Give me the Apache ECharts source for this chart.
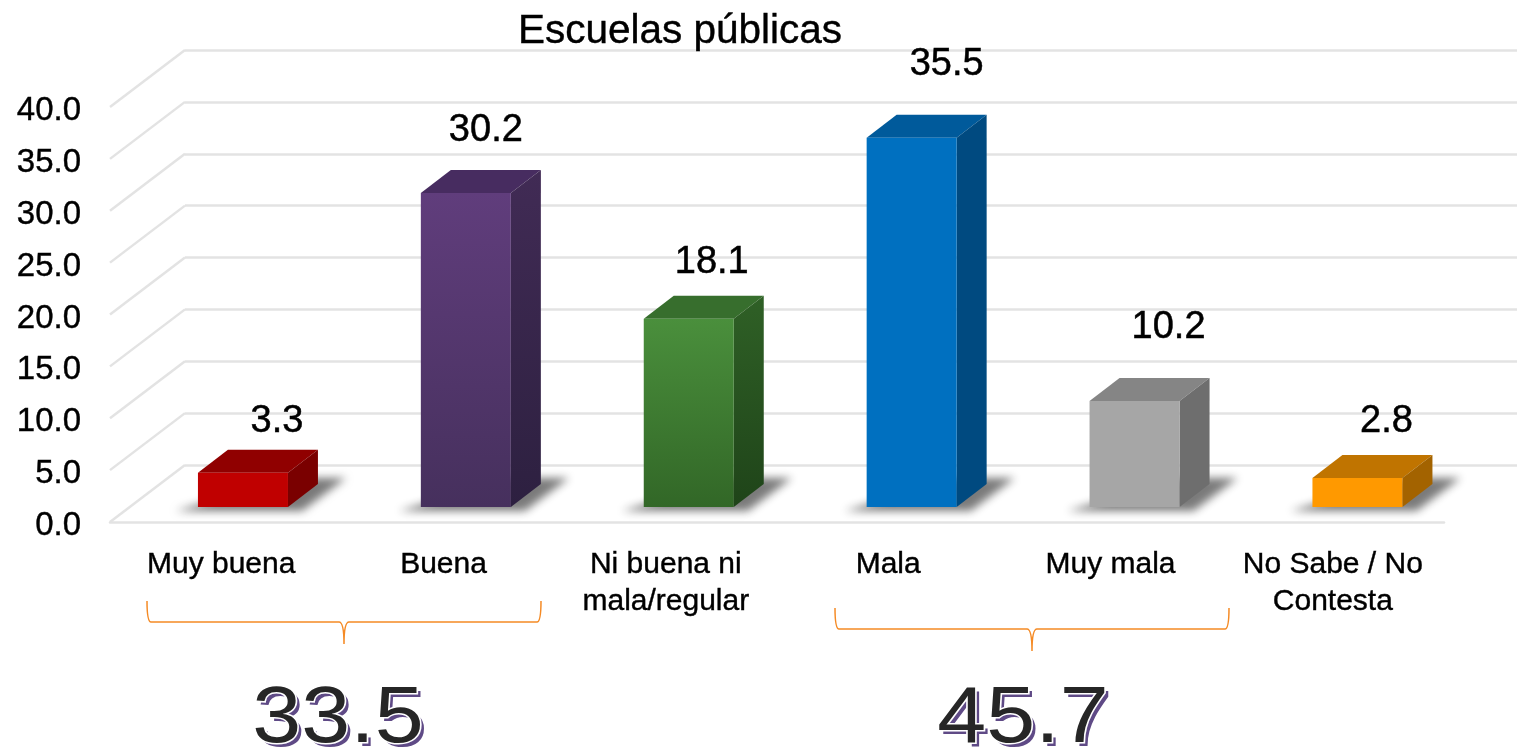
<!DOCTYPE html>
<html>
<head>
<meta charset="utf-8">
<style>html,body{margin:0;padding:0;background:#fff}#c{width:1517px;height:751px}</style>
<script src="https://cdn.jsdelivr.net/npm/echarts@6/dist/echarts.min.js"></script>
</head>
<body>
<div id="c"></div>
<script>
const categories = ['Muy buena','Buena','Ni buena ni\nmala/regular','Mala','Muy mala','No Sabe / No\nContesta'];
const values = [3.3,30.2,18.1,35.5,10.2,2.8];
const valueTicks = [0,5,10,15,20,25,30,35,40];
const groupTotals = ['33.5','45.7'];
const chartTitle = 'Escuelas públicas';

const frontColors = [['#c00000','#c00000'],['#603d7c','#46305d'],['#4a8f3c','#326727'],['#0070c0','#0070c0'],['#a6a6a6','#a6a6a6'],['#ff9900','#ff9900']];
const topColors = ['#900000','#472c60','#376e2d','#005a9b','#858585','#c07400'];
const sideColors = [['#7a0000','#7a0000'],['#412b55','#2d2040'],['#2f6026','#1f4419'],['#004a80','#004a80'],['#6e6e6e','#6e6e6e'],['#a36300','#a36300']];
const labelShift = [[34,-28],[20,-39],[23,-33],[35,-50],[34,-50],[29,-33]];

const FONT = '"Liberation Sans", Arial, sans-serif';
const GRID_COLOR = '#e3e3e3';
const BAR_W = 90, DX = 30, DY = 23;
const WALL_DX = 75, WALL_DY = 57;
const OFF = 3000;

const gradient = c => new echarts.graphic.LinearGradient(0,0,0,1,[{offset:0,color:c[0]},{offset:1,color:c[1]}]);

function renderBar(params, api) {
  const i = api.value(0), v = api.value(1);
  const top = api.coord([i, v]), base = api.coord([i, 0]);
  const x0 = top[0] - BAR_W/2, x1 = top[0] + BAR_W/2, yt = top[1], yb = base[1];
  return {type:'group', children:[
    {type:'polygon', shape:{points:[[x0-22-OFF,yb+4],[x1+14-OFF,yb+4],[x1+DX+28-OFF,yb-DY-6],[x1-OFF,yb-DY-6]]},
      style:{fill:'#000', shadowBlur:8, shadowOffsetX:OFF, shadowColor:'rgba(115,115,115,0.95)'}},
    {type:'polygon', shape:{points:[[x0,yt],[x1,yt],[x1+DX,yt-DY],[x0+DX,yt-DY]]}, style:{fill:topColors[i]}},
    {type:'polygon', shape:{points:[[x1,yt],[x1+DX,yt-DY],[x1+DX,yb-DY],[x1,yb]]}, style:{fill:gradient(sideColors[i])}},
    {type:'rect', shape:{x:x0,y:yt,width:BAR_W,height:yb-yt}, style:{fill:gradient(frontColors[i])}},
    {type:'text', x:top[0]+labelShift[i][0], y:yt-DY+labelShift[i][1],
      style:{text:v.toFixed(1), fill:'#000', stroke:'#000', lineWidth:0.5, font:'38px '+FONT, align:'center', verticalAlign:'middle'}}
  ]};
}

function renderWall(params, api) {
  const y = api.coord([0, api.value(0)])[1], x = params.coordSys.x;
  return {type:'line', shape:{x1:x,y1:y,x2:x+WALL_DX,y2:y-WALL_DY}, style:{stroke:GRID_COLOR,lineWidth:2.5}};
}

function brace(x0, x1, y0, depth) {
  const m = (x0+x1)/2, yc = y0+depth, ye = yc+depth+1;
  return 'M'+x0+' '+y0+'Q'+x0+' '+yc+' '+(x0+4)+' '+yc+'L'+(m-5)+' '+yc+'Q'+m+' '+yc+' '+m+' '+ye+
         'Q'+m+' '+yc+' '+(m+5)+' '+yc+'L'+(x1-4)+' '+yc+'Q'+x1+' '+yc+' '+x1+' '+y0;
}
const braceSpans = [[147,541,601],[835,1229,608]];
function renderBrace(params, api) {
  const s = braceSpans[api.value(0)];
  return {type:'path', shape:{pathData:brace(s[0],s[1],s[2],21)}, style:{fill:'none',stroke:'#f58a24',lineWidth:1.5}};
}
function bigText(text, x, y) {
  const mk = (dx, dy, fill) => ({type:'text', x:x+dx, y:y+dy, z:10, scaleX:1.1, originX:0, originY:0,
    style:{text:text, font:'80px '+FONT, fill:fill, stroke:'#fff', lineWidth:3, align:'center', verticalAlign:'middle'}});
  return [mk(4,4,'#5f4a86'), mk(0,0,'#262626')];
}

const chart = echarts.init(document.getElementById('c'), null, {renderer:'canvas'});
chart.setOption({
  animation:false,
  backgroundColor:'#fff',
  title:{text:chartTitle, left:675, top:6, textAlign:'center',
    textStyle:{fontFamily:FONT, fontSize:40.5, fontWeight:'normal', color:'#000', textBorderColor:'#000', textBorderWidth:0.4}},
  grid:[
    {left:185, right:0, top:50, height:415},
    {left:110, width:1334, top:107, height:415},
    {left:131.5, width:1337.4, top:91, height:416},
    {left:110, width:1334, top:111, height:415}
  ],
  xAxis:[
    {gridIndex:0, type:'category', data:categories, show:false},
    {gridIndex:1, type:'category', data:categories,
      axisLine:{show:true, lineStyle:{color:GRID_COLOR,width:2.5}}, axisTick:{show:false},
      axisLabel:{interval:0, margin:24, color:'#000', fontFamily:FONT, fontSize:30, lineHeight:37, textBorderColor:'#000', textBorderWidth:0.4}},
    {gridIndex:2, type:'category', data:categories, show:false},
    {gridIndex:3, type:'category', data:categories, show:false}
  ],
  yAxis:[
    {gridIndex:0, type:'value', min:0, max:40, interval:5, axisLabel:{show:false}, axisLine:{show:false}, axisTick:{show:false},
      splitLine:{show:true, lineStyle:{color:GRID_COLOR,width:2.5}}},
    {gridIndex:1, type:'value', min:0, max:40, interval:5, axisLabel:{show:false}, axisLine:{show:false}, axisTick:{show:false}, splitLine:{show:false}},
    {gridIndex:2, type:'value', min:0, max:40, interval:5, show:false},
    {gridIndex:3, type:'value', min:0, max:40, interval:5, axisLine:{show:false}, axisTick:{show:false}, splitLine:{show:false},
      axisLabel:{margin:29, color:'#000', fontFamily:FONT, fontSize:33, textBorderColor:'#000', textBorderWidth:0.4, formatter:v=>v.toFixed(1)}}
  ],
  series:[
    {type:'custom', xAxisIndex:1, yAxisIndex:1, silent:true, renderItem:renderWall, data:valueTicks.map(v=>[v]), encode:{y:0}, clip:false},
    {type:'custom', xAxisIndex:2, yAxisIndex:2, silent:true, renderItem:renderBar, data:values.map((v,i)=>[i,v]), encode:{x:0,y:1}, clip:false, z:3},
    {type:'custom', coordinateSystem:'none', silent:true, renderItem:renderBrace, data:[[0],[1]], encode:{value:0}, z:4}
  ],
  graphic:[
    ...bigText(groupTotals[0],338,720),
    ...bigText(groupTotals[1],1023,720)
  ]
});
</script>
</body>
</html>
